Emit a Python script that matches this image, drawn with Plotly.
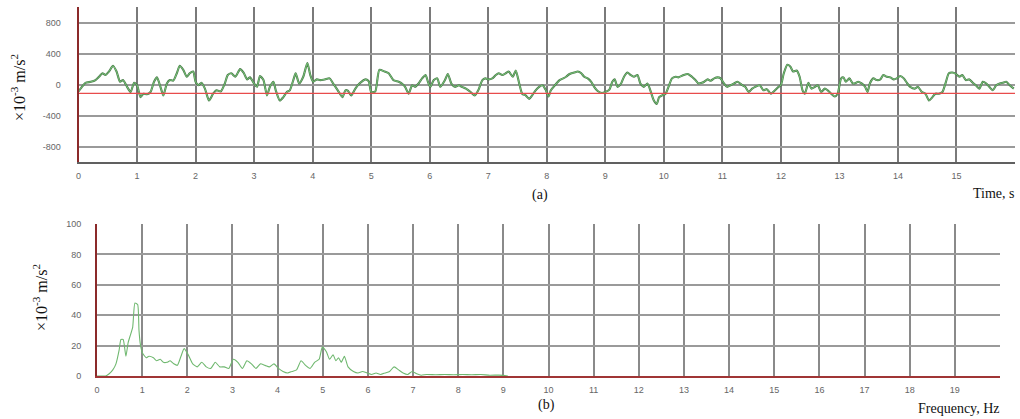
import plotly.graph_objects as go

# ---- (a) time history ----
time_s = [0.00,0.05,0.12,0.21,0.29,0.35,0.41,0.46,0.52,0.59,0.65,0.71,0.76,0.83,0.89,0.95,
          1.00,1.06,1.11,1.17,1.23,1.29,1.34,1.40,1.45,1.51,1.56,1.62,1.68,1.73,1.79,1.85,1.90,1.96,
          2.00,2.05,2.10,2.16,2.23,2.30,2.36,2.43,2.50,2.55,2.61,2.68,2.76,2.82,2.88,2.93,
          3.00,3.05,3.10,3.16,3.22,3.27,3.33,3.37,3.44,3.50,3.56,3.61,3.67,3.71,3.77,3.84,3.91,3.96,
          4.01,4.07,4.13,4.21,4.29,4.35,4.43,4.51,4.56,4.60,4.66,4.73,4.80,4.91,4.96,
          5.00,5.07,5.14,5.23,5.30,5.38,5.47,5.53,5.58,5.64,5.70,5.75,5.81,5.87,5.93,5.97,
          6.01,6.07,6.13,6.18,6.26,6.31,6.37,6.43,6.50,6.55,6.62,6.70,6.77,6.83,6.90,6.95,
          7.01,7.07,7.13,7.18,7.24,7.30,7.35,7.42,7.47,7.53,7.58,7.64,7.70,7.75,7.81,7.87,7.93,7.98,
          8.03,8.07,8.14,8.22,8.28,8.33,8.39,8.47,8.53,8.59,8.64,8.70,8.76,8.81,8.87,8.94,
          9.00,9.07,9.12,9.16,9.21,9.27,9.32,9.38,9.43,9.49,9.55,9.60,9.66,9.72,9.77,9.83,9.88,9.92,9.97,
          10.03,10.08,10.14,10.20,10.25,10.34,10.41,10.48,10.54,10.59,10.65,10.69,10.75,10.80,10.86,10.92,10.97,
          11.03,11.08,11.14,11.20,11.26,11.34,11.39,11.45,11.51,11.56,11.64,11.70,11.76,11.83,11.90,11.96,
          12.00,12.05,12.11,12.16,12.21,12.27,12.32,12.37,12.41,12.47,12.52,12.58,12.63,12.69,12.75,12.80,12.86,12.92,12.97,
          13.03,13.07,13.11,13.17,13.23,13.28,13.32,13.38,13.44,13.48,13.52,13.58,13.64,13.70,13.75,13.81,13.87,13.93,13.98,
          14.04,14.10,14.16,14.21,14.29,14.34,14.41,14.47,14.53,14.59,14.64,14.70,14.76,14.82,14.87,14.93,14.99,
          15.05,15.10,15.16,15.22,15.28,15.33,15.39,15.45,15.51,15.56,15.62,15.68,15.74,15.79,15.85,15.91,15.98]
accel = [-90,-40,22,35,57,100,145,123,167,242,167,35,57,-30,-97,22,
         -9,-163,-119,-125,-97,35,92,-30,-141,13,57,50,145,242,189,100,145,167,
         35,-9,22,-53,-207,-119,-75,-90,13,123,145,100,198,154,66,92,
         13,-30,110,57,-141,-30,35,-75,-207,-163,-97,-75,57,145,13,100,277,123,
         35,66,57,66,79,13,-75,-163,-75,-80,-141,-53,13,66,40,
         -97,-90,189,167,145,57,35,10,-30,-119,-9,-30,13,79,123,35,
         -30,57,79,-30,57,136,13,-30,-9,-30,-53,-97,-141,-75,57,79,
         66,79,123,145,123,145,167,100,180,13,-119,-141,-185,-141,-75,-30,-9,-66,
         -154,-75,-9,57,79,100,136,154,167,145,100,79,35,-30,-84,-110,
         -97,-66,35,66,-30,13,100,154,123,100,123,13,-30,13,-75,-207,-250,-163,-141,
         -119,-30,79,100,92,123,136,100,57,13,22,35,66,48,79,92,79,
         13,-30,-9,13,35,-9,-30,-97,-53,-30,-9,-75,-60,-119,-75,-30,
         -9,145,255,233,167,180,100,-75,-119,22,-53,-30,-9,-97,-53,-75,-119,-154,-119,
         79,92,35,79,13,20,35,13,-30,-97,13,79,57,66,123,100,92,66,79,
         110,79,13,-30,-53,-30,-97,-119,-207,-163,-119,-119,-97,35,145,154,136,
         100,123,57,66,22,-9,-53,35,13,-30,-75,-9,13,22,35,-9,-53]
ref_level = [-115, -115]
ref_time = [0, 16]

time_ticks = list(range(0, 16))
accel_ticks = [-800, -400, 0, 400, 800]
accel_ticktext = ["-800", "-400", "0", "400", "800"]

# ---- (b) spectrum ----
freq_hz = [0.0,0.19,0.27,0.35,0.42,0.49,0.53,0.58,0.64,0.69,0.73,0.79,0.84,0.90,0.93,0.96,
           1.01,1.09,1.15,1.25,1.32,1.40,1.47,1.55,1.62,1.70,1.78,1.86,1.93,2.02,2.12,2.22,2.32,2.42,2.52,2.62,2.72,2.82,2.92,
           3.02,3.12,3.22,3.32,3.42,3.52,3.62,3.72,3.82,3.92,4.02,4.12,4.22,4.32,4.42,4.52,4.62,4.72,4.82,4.92,
           4.99,5.08,5.15,5.23,5.29,5.35,5.41,5.48,5.56,5.68,5.78,5.88,5.98,6.08,6.18,6.28,6.38,6.48,6.58,6.68,6.78,6.88,
           6.98,7.08,7.18,7.3,7.5,7.7,7.9,8.1,8.3,8.5,8.7,8.9,9.0,9.1]
amp = [0,0,1.5,4,8,17,24,24,13,22,26,32,48,47,30,21,
       15,12,13,12,10,11,9,9,10,8,7,13,18,14,8,6,9,6,5,9,6,6,5,
       11,9,5,10,8,5,8,7,6,8,5,3,2,3,4,10,7,5,9,11,
       19,16,11,14,10,12,9,13,6,3,2,3,2,1,2,1,2,3,6,4,2,1,
       3,1.5,0.5,1,0.8,1,0.8,1,0.8,1,0.5,0.6,0.4,0]
freq_ticks = list(range(0, 20))
amp_ticks = [0, 20, 40, 60, 80, 100]

W, H = 1020, 419
def px(x):
    return x / W
def py(y):
    return 1 - y / H

tick_font = dict(family="Liberation Sans, Arial, sans-serif", size=9, color="#666666")
serif = "Liberation Serif, Times New Roman, serif"
grid_col = "#9a9a9a"

fig = go.Figure()
fig.add_trace(go.Scatter(x=time_s, y=accel, mode="lines", xaxis="x", yaxis="y",
                         line=dict(color="#4a7a4a", width=2.1, shape="spline", smoothing=0.6),
                         showlegend=False, hoverinfo="skip"))
fig.add_trace(go.Scatter(x=time_s, y=accel, mode="lines", xaxis="x", yaxis="y",
                         line=dict(color="#80d080", width=0.9, shape="spline", smoothing=0.6),
                         showlegend=False))
fig.add_trace(go.Scatter(x=ref_time, y=ref_level, mode="lines", xaxis="x", yaxis="y",
                         line=dict(color="#e84c4c", width=1.2), showlegend=False))
fig.add_trace(go.Scatter(x=freq_hz, y=amp, mode="lines", xaxis="x2", yaxis="y2",
                         line=dict(color="#6fb86f", width=1.1, shape="spline", smoothing=0.5),
                         showlegend=False))

fig.update_layout(
    width=W, height=H,
    margin=dict(l=0, r=0, t=0, b=0, autoexpand=False),
    paper_bgcolor="white", plot_bgcolor="white",
    xaxis=dict(domain=[px(78.5), px(1015)], range=[0, 16], anchor="y", automargin=False,
               tickvals=time_ticks, ticktext=[str(v) for v in time_ticks],
               showgrid=True, gridcolor="#7a7a7a", gridwidth=1.5,
               showline=True, linecolor="#606060", linewidth=2,
               zeroline=False, ticks="", tickfont=tick_font, ticklabelstandoff=4),
    yaxis=dict(domain=[py(162), py(7)], range=[-1000, 1000], anchor="x", automargin=False,
               tickvals=accel_ticks, ticktext=accel_ticktext,
               showgrid=True, gridcolor=grid_col, gridwidth=1.5,
               showline=True, linecolor="#8b2a2a", linewidth=2,
               zeroline=False, ticks="", tickfont=tick_font, ticklabelstandoff=14),
    xaxis2=dict(domain=[px(97), px(1000)], range=[0, 20], anchor="y2", automargin=False,
                tickvals=freq_ticks, ticktext=[str(v) for v in freq_ticks],
                showgrid=True, gridcolor="#8a8a8a", gridwidth=1.5,
                showline=True, linecolor="#a03535", linewidth=2,
                zeroline=False, ticks="", tickfont=tick_font, ticklabelstandoff=4),
    yaxis2=dict(domain=[py(376), py(224)], range=[0, 100], anchor="x2", automargin=False,
                tickvals=amp_ticks, ticktext=[str(v) for v in amp_ticks],
                showgrid=True, gridcolor=grid_col, gridwidth=1.5,
                showline=True, linecolor="#8b2a2a", linewidth=2,
                zeroline=False, ticks="", tickfont=tick_font, ticklabelstandoff=12),
)

ytitle = "×10<sup>-3</sup> m/s<sup>2</sup>"
anns = [
    dict(x=px(18), y=py(88), text=ytitle, textangle=-90, size=16),
    dict(x=px(40), y=py(298), text=ytitle, textangle=-90, size=16),
    dict(x=px(540), y=py(195), text="(a)", size=14),
    dict(x=px(546), y=py(405), text="(b)", size=14),
    dict(x=px(1017), y=py(193), text="Time, s", xanchor="right", size=14),
    dict(x=px(1002), y=py(408), text="Frequency, Hz", xanchor="right", size=14),
]
for a in anns:
    a.setdefault("xanchor", "center")
    size = a.pop("size")
    fig.add_annotation(xref="paper", yref="paper", yanchor="middle", showarrow=False,
                       font=dict(family=serif, size=size, color="#111111"), **a)

fig.write_html("out.html", config={"displayModeBar": False},
               post_script="document.body.style.margin='0';document.body.style.overflow='hidden';")
